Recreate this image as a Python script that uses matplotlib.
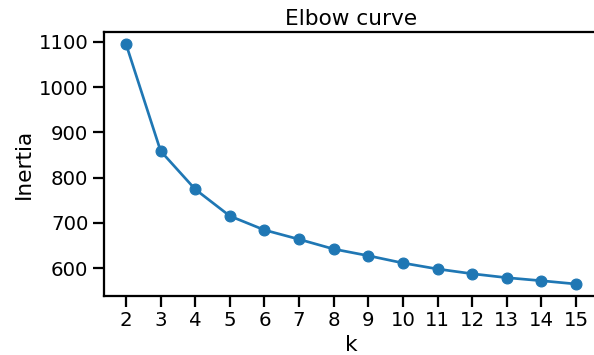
import matplotlib
matplotlib.use("Agg")
import matplotlib.pyplot as plt
import seaborn as sns

k_values = [2, 3, 4, 5, 6, 7, 8, 9, 10, 11, 12, 13, 14, 15]
inertia = [1094.9, 858.8, 774.3, 715.4, 684.5, 664.0, 642.5, 627.8,
           611.7, 598.5, 588.0, 579.3, 572.6, 565.4]
yticks = [600, 700, 800, 900, 1000, 1100]

sns.set_theme(context="talk", style="ticks")
plt.rcParams['font.family'] = ['DejaVu Sans']
for key in ["text.color", "axes.labelcolor", "xtick.color", "ytick.color", "axes.edgecolor"]:
    plt.rcParams[key] = "black"

dpi = 86.4
fig = plt.figure(figsize=(594 / dpi, 355 / dpi), dpi=dpi)
ax = fig.add_axes([103.5 / 594, 1 - 296 / 355, (598.5 - 103.5) / 594, (296 - 32) / 355])
ax.plot(k_values, inertia, marker="o", color="#1f77b4")
ax.set_xticks(k_values)
ax.set_yticks(yticks)
ax.set_xlabel("k")
ax.set_ylabel("Inertia")
ax.set_title("Elbow curve")
fig.savefig("out.png", dpi=dpi)
